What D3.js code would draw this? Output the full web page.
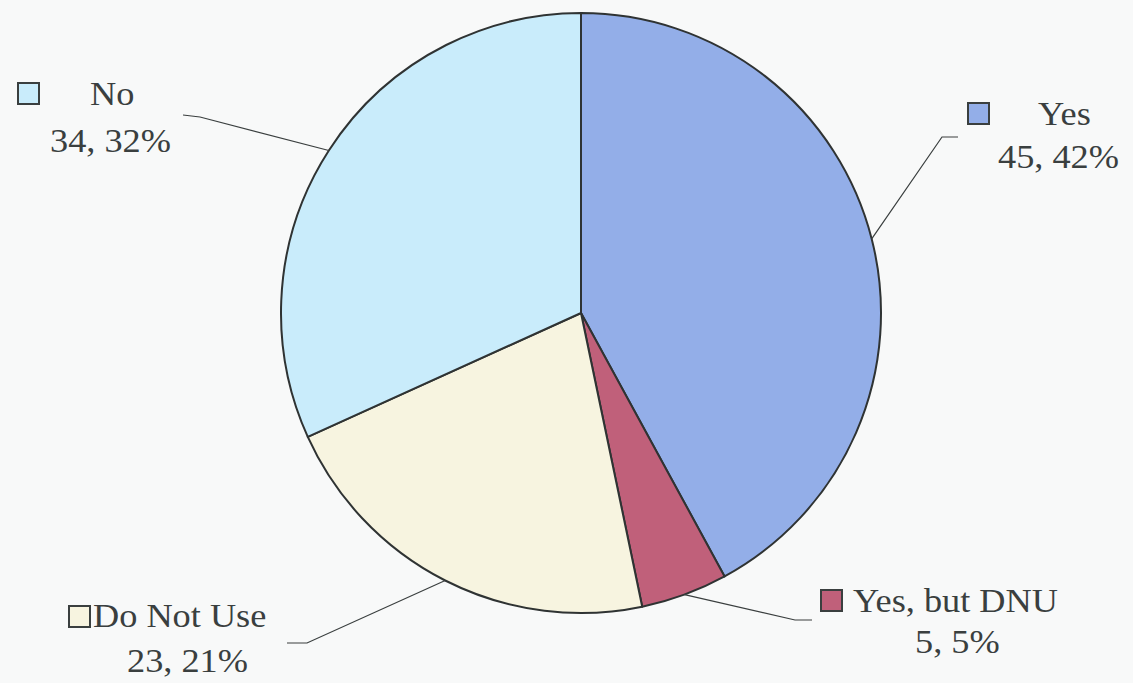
<!DOCTYPE html>
<html><head><meta charset="utf-8">
<script src="https://cdn.jsdelivr.net/npm/d3@7"></script>
<style>html,body{margin:0;padding:0;background:#f8f9f9;}svg{display:block;}
.lbl{font-family:"Liberation Serif","Times New Roman","DejaVu Serif",Times,serif;font-size:33px;fill:#3a3f3f;}</style>
</head><body>
<svg id="c" width="1133" height="683"></svg>
<script>
const categories = ["Yes", "Yes, but DNU", "Do Not Use", "No"];
const values = [45, 5, 23, 34];
const colors = ["#93aee8", "#c0607a", "#f7f4e0", "#c9ecfb"];

// layout (positions only)
const layout = {
  "Yes":          {box:[967,102], name:[1038,125], val:[998,168], elbow:[942,137], end:[958,137]},
  "Yes, but DNU": {box:[820,589], name:[853,612], val:[915,653], elbow:[795,620], end:[812,620]},
  "Do Not Use":   {box:[68,605],  name:[93,627],  val:[127,672], elbow:[307,643], end:[287,643]},
  "No":           {box:[17,82],   name:[90,105],  val:[50,152],  elbow:[200,117], end:[183,115]}
};

const svg = d3.select("#c");
const cx = 581, cy = 313, r = 300;
const total = d3.sum(values);
const data = categories.map((c,i)=>({cat:c, value:values[i], color:colors[i]}));
const pie = d3.pie().value(d=>d.value).sort(null);
const arcs = pie(data);
const arc = d3.arc().innerRadius(0).outerRadius(r);

const g = svg.append("g").attr("transform",`translate(${cx},${cy})`);
g.selectAll("path").data(arcs).join("path")
  .attr("d", arc).attr("fill", d=>d.data.color)
  .attr("stroke","#2f3333").attr("stroke-width",2).attr("stroke-linejoin","round");

// leader lines
arcs.forEach(a=>{
  const L = layout[a.data.cat];
  const m = (a.startAngle + a.endAngle)/2;
  const sx = cx + r*Math.sin(m), sy = cy - r*Math.cos(m);
  svg.append("polyline")
    .attr("points", [[sx,sy],L.elbow,L.end].map(p=>p.join(",")).join(" "))
    .attr("fill","none").attr("stroke","#3a3f3f").attr("stroke-width",1.2);
});

// labels
arcs.forEach(a=>{
  const L = layout[a.data.cat];
  svg.append("rect").attr("x",L.box[0]+1).attr("y",L.box[1]+1).attr("width",21).attr("height",21)
    .attr("fill",a.data.color).attr("stroke","#3a3f3f").attr("stroke-width",2);
  const pct = Math.round(a.data.value/total*100);
  [[L.name, a.data.cat],[L.val, `${a.data.value}, ${pct}%`]].forEach(([p,t])=>{
    svg.append("text").attr("class","lbl")
      .attr("transform",`translate(${p[0]},${p[1]}) scale(1.1,1)`)
      .text(t);
  });
});
</script>
</body></html>
